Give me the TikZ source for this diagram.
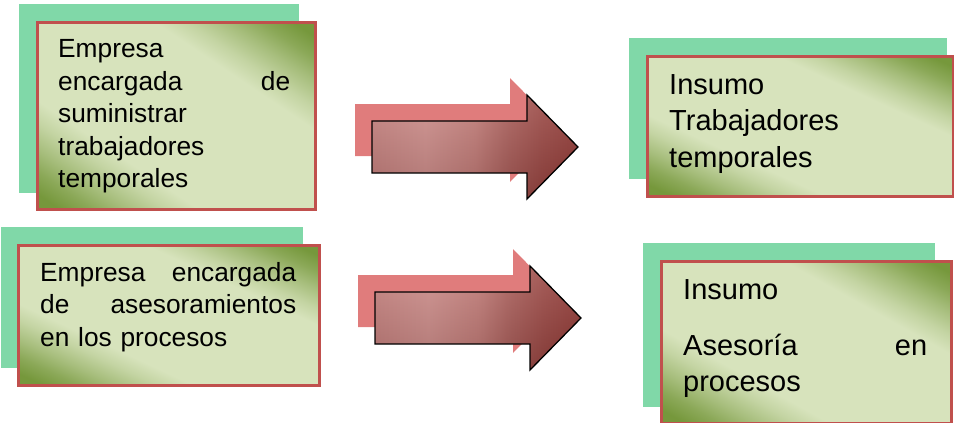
\documentclass[tikz,border=0pt]{standalone}
\usepackage{fontspec}
\setmainfont{Liberation Sans}

% palette
\definecolor{cardgreen}{HTML}{80D8A8}
\definecolor{cardred}{HTML}{C0504D}
\definecolor{olivelight}{HTML}{D7E3BC}
\definecolor{olivedark}{HTML}{76983C}
\colorlet{oliveA}{olivedark!20!olivelight}
\colorlet{oliveB}{olivedark!50!olivelight}
\colorlet{oliveC}{olivedark!78!olivelight}
\definecolor{arrowback}{HTML}{E07C7C}
\definecolor{arA}{HTML}{C27C79}
\definecolor{arB}{HTML}{CC8A87}
\definecolor{arC}{HTML}{BF7773}
\definecolor{arD}{HTML}{A85A56}
\definecolor{arE}{HTML}{9A4541}
\definecolor{arF}{HTML}{8F3632}

% card band: 25bp = lower-left corner, 50bp = falling diagonal, 75bp = upper-right corner
\pgfdeclarehorizontalshading{cardband}{100bp}{%
  color(0bp)=(olivedark); color(27bp)=(olivedark); color(30bp)=(oliveC);
  color(33bp)=(oliveB); color(36.5bp)=(oliveA); color(39.5bp)=(olivelight);
  color(60.5bp)=(olivelight); color(63.5bp)=(oliveA); color(67bp)=(oliveB);
  color(70bp)=(oliveC); color(73bp)=(olivedark); color(100bp)=(olivedark)}
% block arrow: light on the left, deep red towards the tip
\pgfdeclarehorizontalshading{arrowshade}{100bp}{%
  color(0bp)=(arA); color(25bp)=(arA); color(38bp)=(arB);
  color(50bp)=(arC); color(58bp)=(arD); color(66bp)=(arE);
  color(75bp)=(arF); color(100bp)=(arF)}

\newcommand\arrowoutline{(0,0) -- (155,0) -- (155,-26) -- (206,26) -- (155,78) -- (155,52) -- (0,52) -- cycle}

% card backdrop: #1,#2 top-left corner, #3 width, #4 height,
% #5 = width/20, #6 = height/20, #7,#8 centre
\newcommand\cardbackdrop[8]{%
  \begin{scope}
    \clip (#1,#2) rectangle ++(#3,#4);
    \fill[olivelight] (#1,#2) rectangle ++(#3,#4);
    \shade[shading=cardband, transform canvas={cm={#5,#6,#5,-#6,(#7,#8)}}]
      (-10pt,-10pt) rectangle (10pt,10pt);
  \end{scope}}

\begin{document}
\begin{tikzpicture}[x=1pt,y=-1pt,
  backcard/.style={fill=cardgreen, draw=none, anchor=north west, inner sep=0pt},
  infocard/.style={draw=cardred, line width=2.5pt, anchor=north west, inner sep=0pt},
  cardtext/.style={anchor=north west, inner sep=0pt, align=left, text=black},
  smalltext/.style={font=\fontsize{26.3}{32.5}\selectfont},
  bigtext/.style={font=\fontsize{29}{36.5}\selectfont},
  pics/blockarrow/.style={code={
    \begin{scope}[shift={(-17,-17)}]
      \fill[arrowback] \arrowoutline;
    \end{scope}
    \path[shade, shading=arrowshade] \arrowoutline;
    \path[top color=white, bottom color=black, fill opacity=0.14] \arrowoutline;
    \draw[black, line width=1.3pt, line join=miter] \arrowoutline;
  }}]
\useasboundingbox (0,0) rectangle (954,423);

% upper row
\node[backcard, minimum width=280, minimum height=189] (supplyback) at (19,4) {};
\cardbackdrop{36}{21}{278}{187}{13.9}{9.35}{175}{114.5}
\node[infocard, minimum width=278, minimum height=187] (supplycard) at (36,21) {};
\node[cardtext, smalltext, text width=232] (supplytext) at (58,39.7)
  {Empresa\\ encargada\hfill de\\ suministrar\\ trabajadores\\ temporales};

\pic (upperarrow) at (372,121) {blockarrow};

\node[backcard, minimum width=318, minimum height=141] (workersback) at (629,38) {};
\cardbackdrop{646}{55}{306}{140}{15.3}{7}{799}{125}
\node[infocard, minimum width=306, minimum height=140] (workerscard) at (646,55) {};
\node[cardtext, bigtext, text width=260] (workerstext) at (669,74.2)
  {Insumo\\ Trabajadores\\ temporales};

% lower row
\node[backcard, minimum width=302, minimum height=141] (adviceback) at (1,227) {};
\cardbackdrop{17}{244}{301}{140}{15.05}{7}{167.5}{314}
\node[infocard, minimum width=301, minimum height=140] (advicecard) at (17,244) {};
\node[cardtext, smalltext, text width=256] (advicetext) at (40,262.2)
  {Empresa\hfill encargada\\ de\hfill asesoramientos\\ en los procesos};

\pic (lowerarrow) at (375,292) {blockarrow};

\node[backcard, minimum width=292, minimum height=164] (processback) at (643,243) {};
\cardbackdrop{660}{260}{290}{162}{14.5}{8.1}{805}{341}
\node[infocard, minimum width=290, minimum height=162] (processcard) at (660,260) {};
\node[cardtext, font=\fontsize{29}{35.5}\selectfont, text width=244] (processtext) at (683,279.2)
  {Insumo\\[21pt] Asesoría\hfill en\\ procesos};
\end{tikzpicture}
\end{document}
